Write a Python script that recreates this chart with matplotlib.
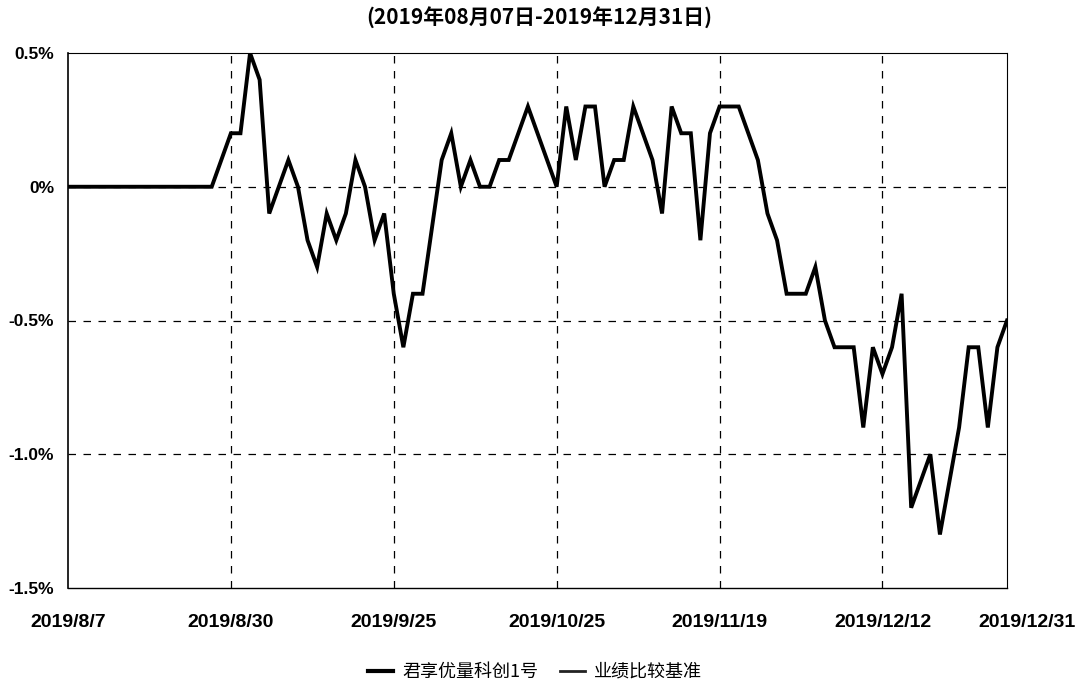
import matplotlib
matplotlib.use("Agg")
import matplotlib.pyplot as plt
import matplotlib.transforms as mtransforms
from matplotlib.lines import Line2D

plt.rcParams['font.family'] = ['Liberation Sans', 'Noto Sans CJK SC', 'DejaVu Sans']

title = "(2019年08月07日-2019年12月31日)"
series_names = ["君享优量科创1号", "业绩比较基准"]

# cumulative return (%) per trading day, index 0 = 2019/8/7 ... 98 = 2019/12/31
fund = [0.0, 0.0, 0.0, 0.0, 0.0, 0.0, 0.0, 0.0, 0.0, 0.0,
        0.0, 0.0, 0.0, 0.0, 0.0, 0.0, 0.1, 0.2, 0.2, 0.5,
        0.4, -0.1, 0.0, 0.1, 0.0, -0.2, -0.3, -0.1, -0.2, -0.1,
        0.1, 0.0, -0.2, -0.1, -0.4, -0.6, -0.4, -0.4, -0.15, 0.1,
        0.2, 0.0, 0.1, 0.0, 0.0, 0.1, 0.1, 0.2, 0.3, 0.2,
        0.1, 0.0, 0.3, 0.1, 0.3, 0.3, 0.0, 0.1, 0.1, 0.3,
        0.2, 0.1, -0.1, 0.3, 0.2, 0.2, -0.2, 0.2, 0.3, 0.3,
        0.3, 0.2, 0.1, -0.1, -0.2, -0.4, -0.4, -0.4, -0.3, -0.5,
        -0.6, -0.6, -0.6, -0.9, -0.6, -0.7, -0.6, -0.4, -1.2, -1.1,
        -1.0, -1.3, -1.1, -0.9, -0.6, -0.6, -0.9, -0.6, -0.5]

tick_idx = [0, 17, 34, 51, 68, 85, 98]
tick_labels = ["2019/8/7", "2019/8/30", "2019/9/25", "2019/10/25",
               "2019/11/19", "2019/12/12", "2019/12/31"]
y_ticks = [0.5, 0.0, -0.5, -1.0, -1.5]
y_labels = ["0.5%", "0%", "-0.5%", "-1.0%", "-1.5%"]

fig = plt.figure(figsize=(10.88, 6.86), dpi=100)
ax = fig.add_axes([68/1088, 1-588/686, (1007-68)/1088, (588-53)/686])

x = list(range(len(fund)))
ax.plot(x, fund, color='black', lw=2.8, solid_joinstyle='miter', zorder=3)

ax.set_xlim(0, len(fund) - 1)
ax.set_ylim(-1.5, 0.5)
ax.set_xticks(tick_idx)
ax.set_xticklabels(tick_labels, fontsize=14, fontweight='bold')
ax.set_yticks(y_ticks)
ax.set_yticklabels(y_labels, fontsize=12.5, fontweight='bold')
ax.tick_params(length=0)
ax.tick_params(axis='x', pad=19)
ax.tick_params(axis='y', pad=10)

last = ax.get_xticklabels()[-1]
last.set_transform(last.get_transform() + mtransforms.ScaledTranslation(0.2, 0, fig.dpi_scale_trans))

for t in tick_idx[1:-1]:
    ax.axvline(t, color='black', lw=0.9, ls=(0, (6, 6)), zorder=1)
for v in [0.0, -0.5, -1.0]:
    ax.axhline(v, color='black', lw=0.9, ls=(0, (6, 6)), zorder=1)

ax.spines['left'].set_linewidth(1.2)
ax.spines['bottom'].set_linewidth(1.0)
ax.spines['bottom'].set_linestyle((0, (2, 1)))
ax.spines['top'].set_linewidth(0.8)
ax.spines['top'].set_linestyle((0, (2, 1)))
ax.spines['right'].set_linewidth(0.8)
ax.spines['right'].set_linestyle((0, (2, 1)))

fig.text(539/1088, 1-18/686, title, ha='center', va='center', fontsize=15,
         fontweight='bold', family=['Noto Sans CJK SC', 'DejaVu Sans'])

handles = [Line2D([], [], color='black', lw=3),
           Line2D([], [], color='#222222', lw=2)]
fig.legend(handles, series_names, loc='center', bbox_to_anchor=(535/1088, 1-672/686),
           ncol=2, frameon=False, handlelength=1.4, columnspacing=1.2, handletextpad=0.5,
           prop={'family': ['Noto Sans CJK SC', 'DejaVu Sans'], 'size': 13})

fig.savefig("out.png", dpi=100)
